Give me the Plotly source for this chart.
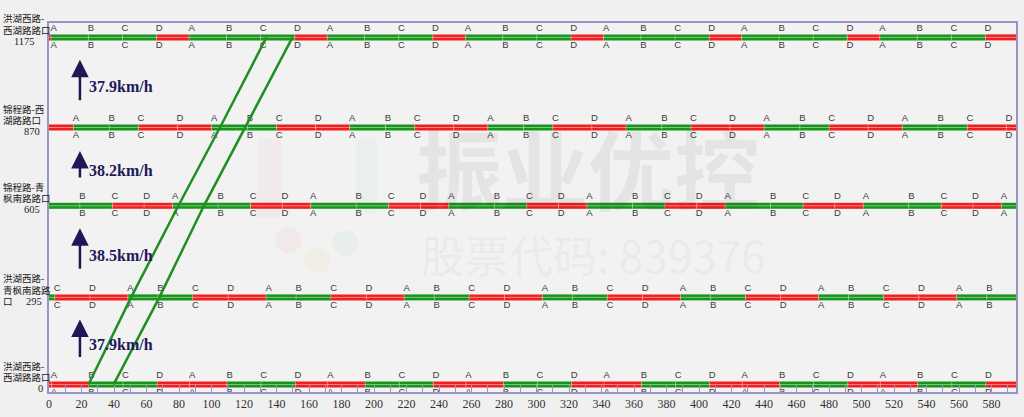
import plotly.graph_objects as go

# ---------------- data ----------------
distances = [0, 295, 605, 870, 1175]
label_lines = [
    ["洪湖西路-", "西湖路路口"],
    ["洪湖西路-", "青枫南路路", "口"],
    ["锦程路-青", "枫南路路口"],
    ["锦程路-西", "湖路路口"],
    ["洪湖西路-", "西湖路路口"],
]
distance_labels = ["0", "295", "605", "870", "1175"]
cycle = 85
phases = ["A", "B", "C", "D"]
phase_durations = [
    [23, 21, 21, 20],
    [18.5, 21.5, 21.7, 23.3],
    [28, 20, 19.5, 17.5],
    [22, 18, 24, 21],
    [23, 21, 21, 20],
]
phase_offsets = [1.5, -36.5, -9, 15, 1.2]
green_phases = [["B", "C"], ["A", "B"], ["A", "B"], ["A", "B"], ["A", "B", "C"]]
band_left = [24.3, 50.5, 79.6, 105.2, 133.8]
band_right = [39.7, 67.9, 95.3, 120.5, 149.8]
speed_labels = ["37.9km/h", "38.5km/h", "38.2km/h", "37.9km/h"]

# ---------------- layout geometry ----------------
W, H = 1024, 417
ML, MR, MT, MB = 49, 6, 23, 22
PW, PH = W - ML - MR, H - MT - MB
XMAX = 595
YMIN, YMAX = -25.2, 1223.7


def px2x(px):
    return (px - ML) / PW * XMAX


def py2y(py):
    return YMIN + (H - MB - py) / PH * (YMAX - YMIN)


def pxp(px):
    return (px - ML) / PW


def pyp(py):
    return (H - MB - py) / PH


GREEN = "#17941a"
RED = "#f01e1e"
FRAME = "#9a93c6"
NAVY = "#1e1858"

fig = go.Figure()

# signal bars
gx, gy, rx, ry = [], [], [], []
vx, vy = [], []
let_x, let_y_up, let_y_dn, let_t = [], [], [], []
for d, durs, off, greens in zip(distances, phase_durations, phase_offsets, green_phases):
    t = off - cycle
    k = 0
    while t < XMAX:
        ph = phases[k % 4]
        dur = durs[k % 4]
        s, e = max(t, 0), min(t + dur, XMAX)
        if e > s:
            if ph in greens:
                gx += [s, e, None]
                gy += [d, d, None]
            else:
                rx += [s, e, None]
                ry += [d, d, None]
        if 0 <= t < XMAX - 1:
            let_x.append(t + 1.6)
            let_y_up.append(d + 30)
            let_y_dn.append(d - 27)
            let_t.append(ph)
            vx += [t, t, None]
            vy += [d - 9, d + 9, None]
        t += dur
        k += 1

fig.add_trace(go.Scatter(x=gx, y=gy, mode="lines", line=dict(color=GREEN, width=6),
                         hoverinfo="skip", showlegend=False))
fig.add_trace(go.Scatter(x=rx, y=ry, mode="lines", line=dict(color=RED, width=6),
                         hoverinfo="skip", showlegend=False))
sx, sy = [], []
for d in distances:
    sx += [0, XMAX, None]
    sy += [d, d, None]
fig.add_trace(go.Scatter(x=sx, y=sy, mode="lines", line=dict(color="rgba(255,255,255,0.45)", width=1),
                         hoverinfo="skip", showlegend=False))
fig.add_trace(go.Scatter(x=vx, y=vy, mode="lines", line=dict(color="rgba(255,255,255,0.3)", width=1),
                         hoverinfo="skip", showlegend=False))

for ys in (let_y_up, let_y_dn):
    fig.add_trace(go.Scatter(x=let_x, y=ys, mode="text", text=let_t,
                             textfont=dict(family="Liberation Sans", size=9.5, color="#3a3a3a"),
                             textposition="middle center", hoverinfo="skip", showlegend=False))

# green wave band
for band in (band_left, band_right):
    fig.add_trace(go.Scatter(x=band, y=distances, mode="lines",
                             line=dict(color="#1f8f1f", width=2.5),
                             hoverinfo="skip", showlegend=False))

annotations = []
# watermark
annotations.append(dict(xref="paper", yref="paper", x=pxp(589), y=pyp(168), text="<b>振业优控</b>",
                        showarrow=False, font=dict(family="Noto Sans CJK SC", size=86, color="rgba(0,0,0,0.055)")))
annotations.append(dict(xref="paper", yref="paper", x=pxp(595), y=pyp(256), text="股票代码: 839376",
                        showarrow=False, font=dict(family="Noto Sans CJK SC", size=44, color="rgba(0,0,0,0.05)")))

# y labels
num_right = [45, 44, 42, 42, 37]
for d, lines, lab, nr in zip(distances, label_lines, distance_labels, num_right):
    for i, ln in enumerate(lines):
        shift = 19 - 11.5 * i
        annotations.append(dict(xref="paper", yref="y", x=pxp(1), y=d, yshift=shift, text=ln,
                                xanchor="left", yanchor="middle", showarrow=False,
                                font=dict(family="Noto Sans CJK SC", size=9.5, color="#222")))
    annotations.append(dict(xref="paper", yref="y", x=pxp(nr), y=d, yshift=-4, text=lab,
                            xanchor="right", yanchor="middle", showarrow=False,
                            font=dict(family="Liberation Serif", size=10.5, color="#222")))

# speed arrows + labels
arrow_px = [(322, 361, 347), (230, 272, 257), (152, 180, 172), (60, 102, 87)]
for (tip, tail, lab_y), sp in zip(arrow_px, speed_labels):
    annotations.append(dict(xref="x", yref="y", x=px2x(80), y=py2y(tip), ax=0, ay=tail - tip,
                            axref="pixel", ayref="pixel", text="", showarrow=True,
                            arrowhead=2, arrowsize=1.4, arrowwidth=2.5, arrowcolor=NAVY))
    annotations.append(dict(xref="x", yref="y", x=px2x(87), y=py2y(lab_y), text="<b>" + sp + "</b>",
                            xanchor="left", yanchor="middle", showarrow=False,
                            font=dict(family="Liberation Serif", size=16, color=NAVY)))

# faint logo shapes
shapes = [
    dict(type="circle", xref="paper", yref="paper", x0=pxp(276), x1=pxp(302), y0=pyp(255), y1=pyp(229),
         fillcolor="rgba(235,120,120,0.07)", line=dict(width=0), layer="below"),
    dict(type="circle", xref="paper", yref="paper", x0=pxp(305), x1=pxp(331), y0=pyp(275), y1=pyp(249),
         fillcolor="rgba(235,220,120,0.10)", line=dict(width=0), layer="below"),
    dict(type="circle", xref="paper", yref="paper", x0=pxp(333), x1=pxp(359), y0=pyp(258), y1=pyp(232),
         fillcolor="rgba(120,200,140,0.08)", line=dict(width=0), layer="below"),
    dict(type="rect", xref="paper", yref="paper", x0=pxp(258), x1=pxp(282), y0=pyp(220), y1=pyp(140),
         fillcolor="rgba(235,120,120,0.06)", line=dict(width=0), layer="below"),
    dict(type="rect", xref="paper", yref="paper", x0=pxp(356), x1=pxp(378), y0=pyp(215), y1=pyp(140),
         fillcolor="rgba(120,200,140,0.06)", line=dict(width=0), layer="below"),
]

fig.update_layout(
    width=W, height=H,
    margin=dict(l=ML, r=MR, t=MT, b=MB),
    paper_bgcolor="#f0f0f0",
    plot_bgcolor="#f2f2f2",
    annotations=annotations,
    shapes=shapes,
    xaxis=dict(range=[0, XMAX], showgrid=False, zeroline=False, showline=True, mirror=True,
               linecolor=FRAME, linewidth=1.5, ticks="inside", ticklen=7, tickcolor=FRAME,
               tick0=0, dtick=20, tickfont=dict(family="Liberation Serif", size=12, color="#333"),
               minor=dict(dtick=10, ticks="inside", ticklen=7, tickcolor=FRAME)),
    yaxis=dict(range=[YMIN, YMAX], showgrid=False, zeroline=False, showline=True, mirror=True,
               linecolor=FRAME, linewidth=1.5, showticklabels=False, ticks=""),
)

fig.write_html("out.html", config={"displayModeBar": False},
               post_script="document.body.style.margin='0';document.body.style.background='#f0f0f0';"
                           "document.body.style.overflow='hidden';")
